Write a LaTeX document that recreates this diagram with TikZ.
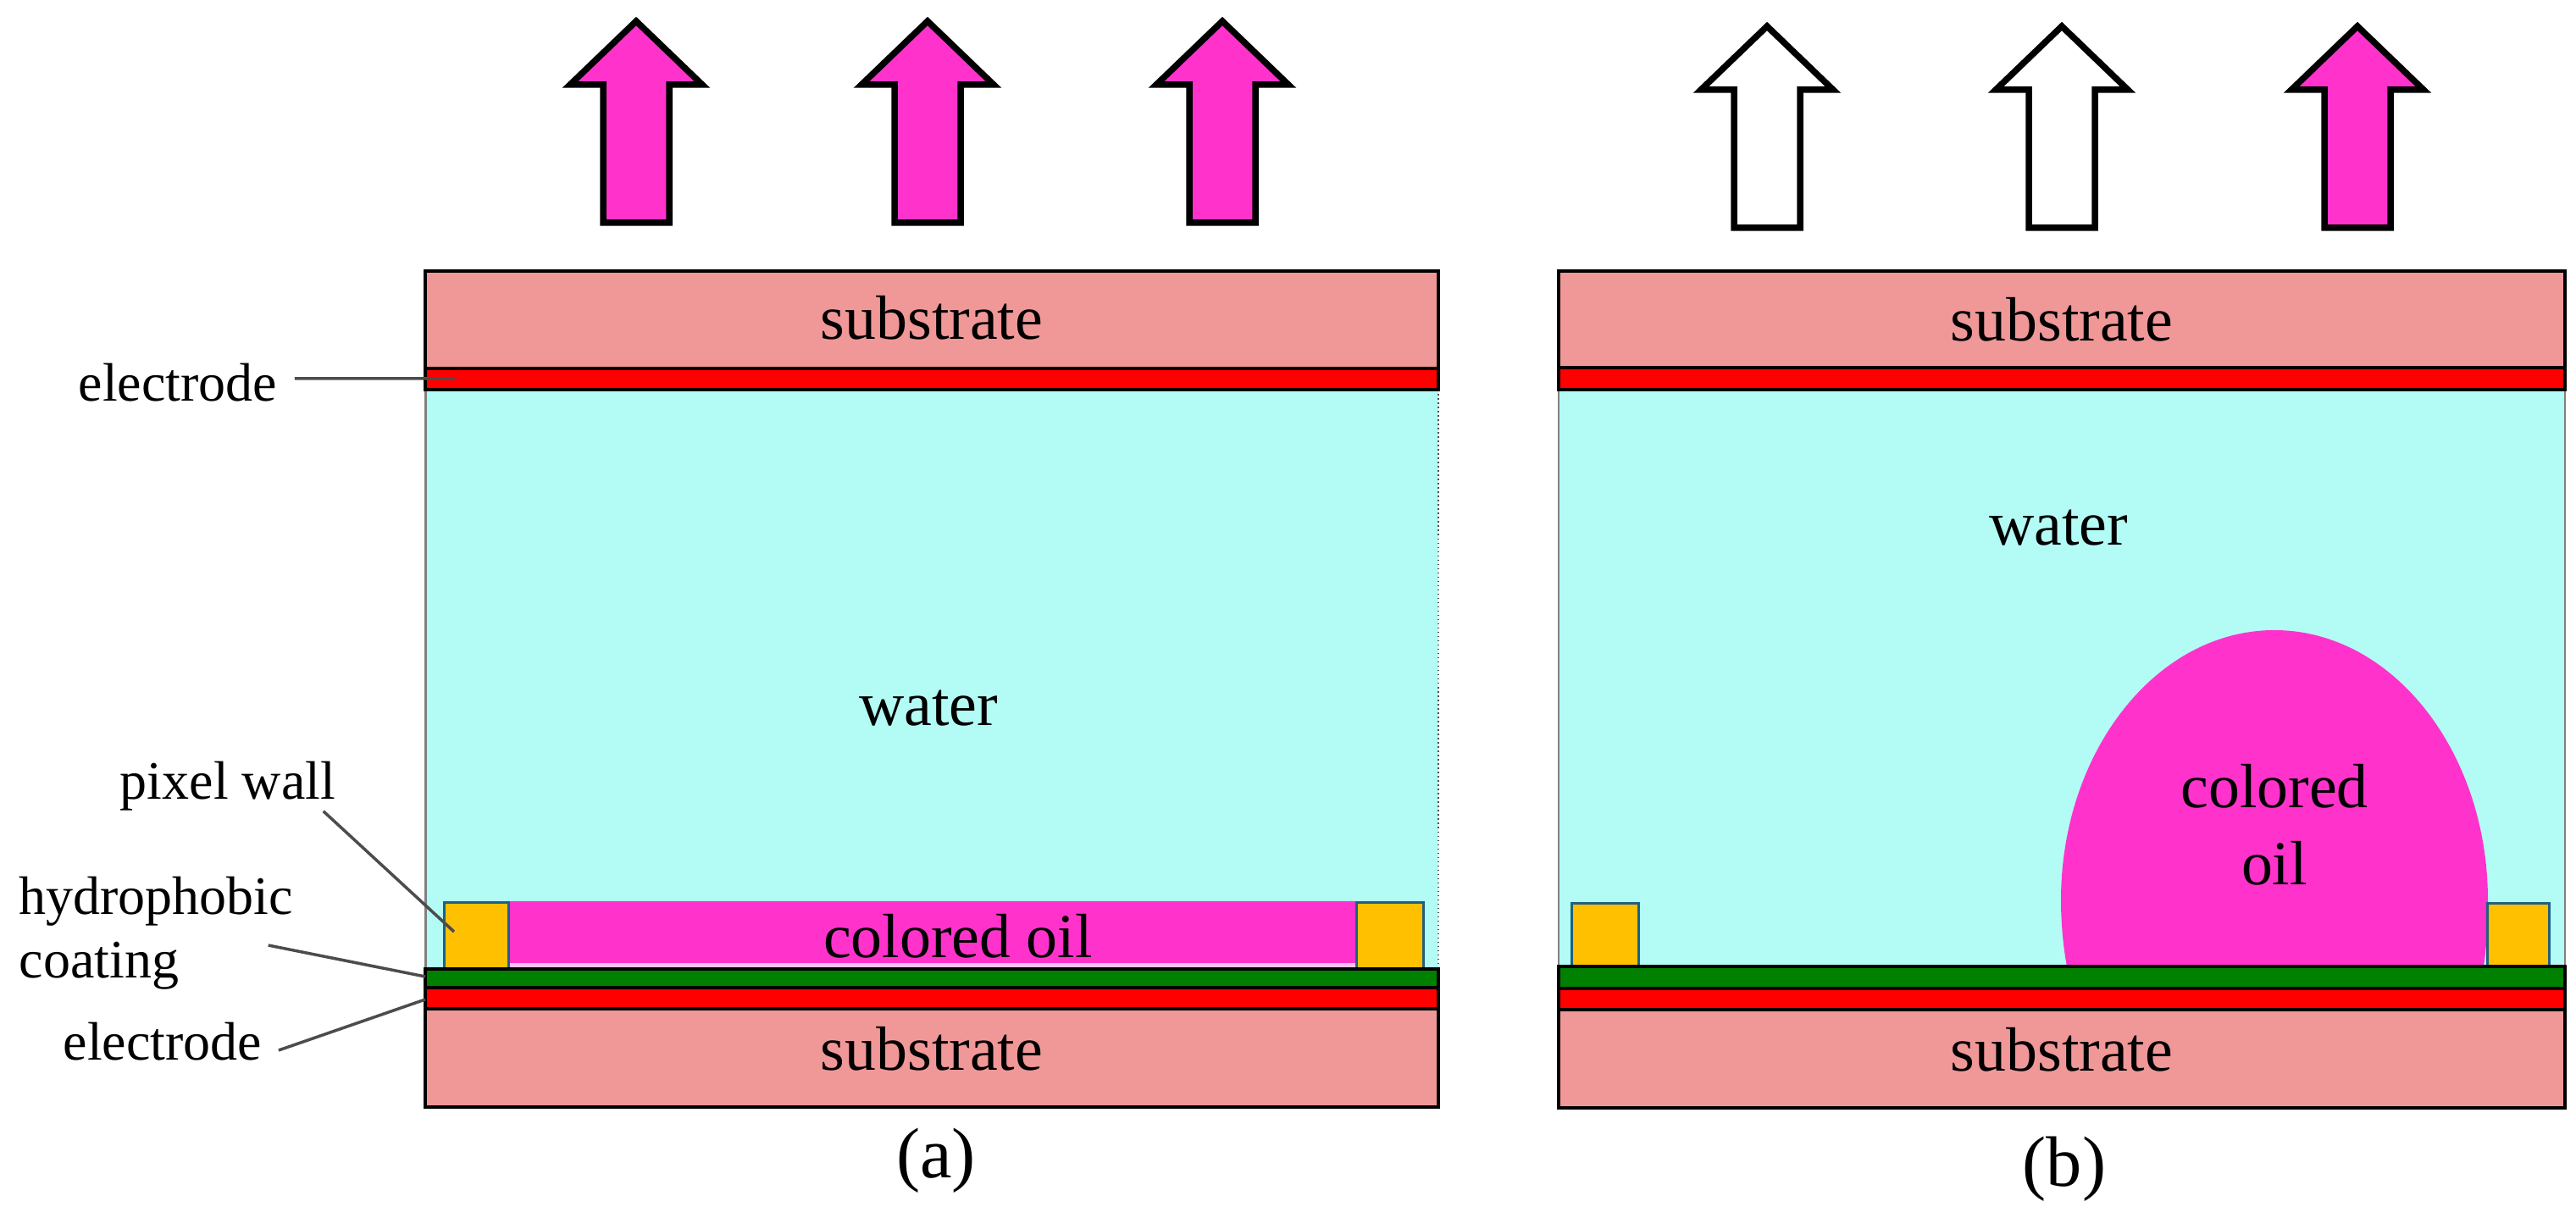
\documentclass[tikz,border=0pt]{standalone}
\usepackage{fontspec}
\setmainfont{Liberation Serif}
\definecolor{subcol}{HTML}{F09898}
\definecolor{watercol}{HTML}{B3FCF6}
\definecolor{oilcol}{HTML}{FF33CC}
\definecolor{wallcol}{HTML}{FFC000}
\definecolor{wallline}{HTML}{1F6080}
\definecolor{greencol}{HTML}{008000}
\tikzset{
  layer/.style={draw=black, line width=0.045cm},
  water/.style={fill=watercol, draw=gray, line width=0.02cm},
  wall/.style={fill=wallcol, draw=wallline, line width=0.03cm},
  lightarrow/.style={draw=black, line width=0.075cm, miter limit=10},
  leader/.style={draw=black!70, line width=0.035cm},
  big/.style={font=\fontsize{21}{26}\selectfont, inner sep=0pt},
  small/.style={font=\fontsize{18.2}{21.3}\selectfont, inner sep=0pt},
  caption/.style={font=\fontsize{24}{28}\selectfont, inner sep=0pt}
}
\begin{document}
\begin{tikzpicture}[x=1cm,y=-1cm]
    \useasboundingbox (0,0) rectangle (30.41,14.38);
    % arrows
    \foreach \ax/\ay/\acol in {7.51/0.25/oilcol, 10.95/0.25/oilcol, 14.43/0.25/oilcol,
                               20.86/0.31/white, 24.34/0.31/white, 27.83/0.31/oilcol} {
      \draw[lightarrow, fill=\acol, shift={(\ax,\ay)}] (0,0) -- (0.78,0.75) -- (0.39,0.75) -- (0.39,2.38)
        -- (-0.39,2.38) -- (-0.39,0.75) -- (-0.78,0.75) -- cycle;
    }
    % panel a
    \fill[watercol] (5.02,4.60) rectangle (16.98,11.44);
    \draw[gray, line width=0.03cm] (5.02,4.60) -- (5.02,11.44);
    \draw[black!70, densely dotted, line width=0.015cm] (16.98,4.60) -- (16.98,11.44);
    \node[big] (waterA) at (10.96,8.36) {water};
    \fill[white!70!oilcol] (6.00,11.30) rectangle (16.01,11.42);
    \fill[oilcol] (6.00,10.64) rectangle (16.01,11.37);
    \node[big] (oilA) at (11.31,11.05) {colored oil};
    \draw[wall] (5.24,10.65) rectangle (6.00,11.44);
    \draw[wall] (16.01,10.65) rectangle (16.80,11.44);
    \draw[layer, fill=subcol] (5.02,3.20) rectangle (16.98,4.35) node[pos=.5, big, yshift=0.02cm] (subAtop) {substrate};
    \draw[layer, fill=red] (5.02,4.35) rectangle (16.98,4.60);
    \draw[layer, fill=greencol] (5.02,11.44) rectangle (16.98,11.66);
    \draw[layer, fill=red] (5.02,11.66) rectangle (16.98,11.91);
    \draw[layer, fill=subcol] (5.02,11.91) rectangle (16.98,13.07) node[pos=.5, big, yshift=0.11cm] (subAbot) {substrate};
    \node[caption] (capA) at (11.05,13.70) {(a)};
    % panel b
    \draw[water] (18.40,4.60) rectangle (30.28,11.41);
    \node[big] (waterB) at (24.30,6.23) {water};
    \fill[oilcol] (24.40,11.41) .. controls (24.35,11.15) and (24.33,10.85) .. (24.33,10.63)
      .. controls (24.33,8.87) and (25.46,7.44) .. (26.85,7.44)
      .. controls (28.24,7.44) and (29.37,8.87) .. (29.37,10.63)
      .. controls (29.37,10.85) and (29.36,11.15) .. (29.32,11.41) -- cycle;
    \node[big, align=center] (oilB) at (26.85,9.74) {colored\\oil};
    \draw[wall] (18.55,10.66) rectangle (19.34,11.41);
    \draw[wall] (29.36,10.66) rectangle (30.09,11.41);
    \draw[layer, fill=subcol] (18.40,3.20) rectangle (30.28,4.34) node[pos=.5, big] (subBtop) {substrate};
    \draw[layer, fill=red] (18.40,4.34) rectangle (30.28,4.60);
    \draw[layer, fill=greencol] (18.40,11.41) rectangle (30.28,11.67);
    \draw[layer, fill=red] (18.40,11.67) rectangle (30.28,11.92);
    \draw[layer, fill=subcol] (18.40,11.92) rectangle (30.28,13.08) node[pos=.5, big, yshift=0.11cm] (subBbot) {substrate};
    \node[caption] (capB) at (24.37,13.80) {(b)};
    % labels
    \node[small] (elecTop) at (2.10,4.52) {electrode};
    \node[small] (wallLabel) at (2.69,9.28) {pixel wall};
    \node[small, align=left, anchor=west] (hydLabel) at (0.22,11.02) {hydrophobic\\coating};
    \node[small] (elecBot) at (1.92,12.30) {electrode};
    \coordinate (elecTopEnd) at (5.37,4.47);
    \coordinate (wallEnd) at (5.36,11.00);
    \coordinate (hydEnd) at (5.02,11.53);
    \coordinate (elecBotEnd) at (5.02,11.80);
    \draw[leader] ([xshift=0.20cm,yshift=0.05cm]elecTop.east) -- (elecTopEnd);
    \draw[leader] ([xshift=-0.15cm,yshift=0cm]wallLabel.south east) -- (wallEnd);
    \draw[leader] ([xshift=-0.30cm,yshift=-0.14cm]hydLabel.east) -- (hydEnd);
    \draw[leader] ([xshift=0.19cm,yshift=-0.10cm]elecBot.east) -- (elecBotEnd);
\end{tikzpicture}
\end{document}
